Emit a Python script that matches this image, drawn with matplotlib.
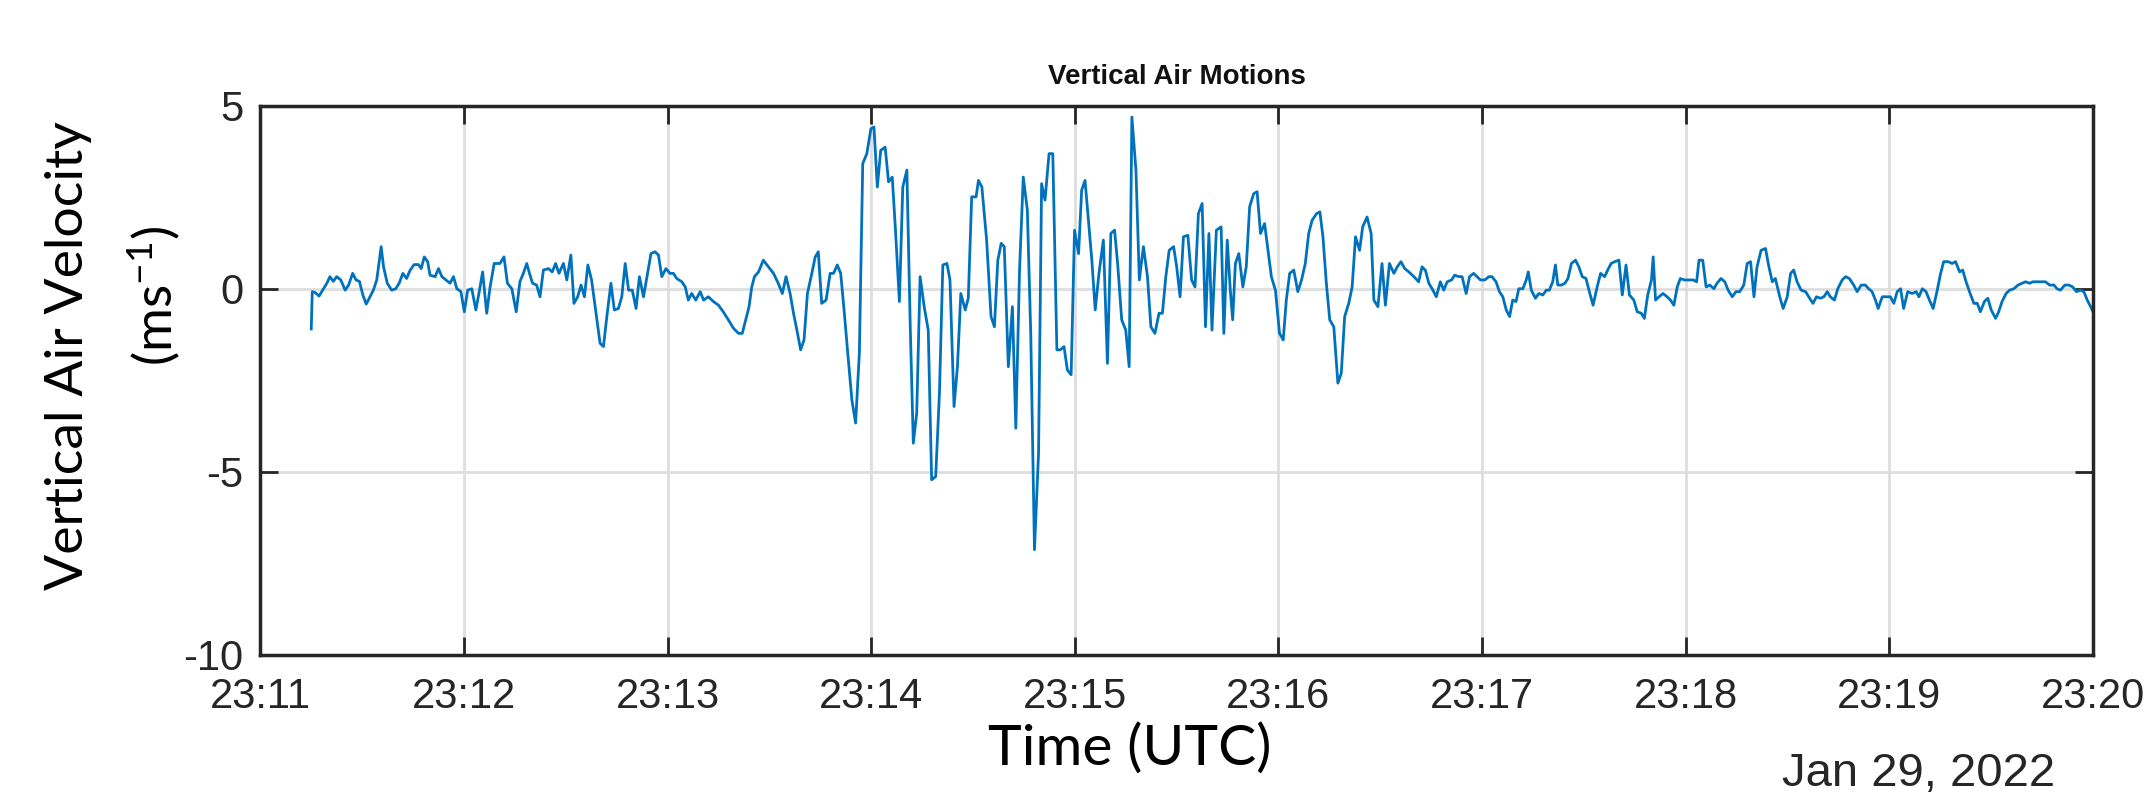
import numpy as np
import matplotlib
matplotlib.use("Agg")
import matplotlib.pyplot as plt
import matplotlib.dates as mdates

# seconds after 23:11:00 UTC
t_sec = [
    15.0, 15.3, 16.1, 17.3, 18.6, 19.6, 20.5, 21.5, 22.5, 23.7, 25.0, 26.0, 27.2, 28.2, 29.2, 30.2,
    31.2, 32.3, 33.3, 34.3, 35.6, 36.3, 37.4, 38.7, 39.9, 40.9, 42.0, 43.1, 44.1, 45.3, 46.6, 47.4,
    48.3, 49.3, 50.0, 51.5, 52.5, 53.5, 54.7, 55.9, 56.9, 57.9, 59.1, 60.1, 61.1, 62.3, 63.5, 64.5,
    65.5, 66.7, 67.7, 68.9, 70.6, 71.8, 72.8, 74.1, 75.4, 76.5, 77.5, 78.5, 79.3, 80.2, 81.4, 82.4,
    83.4, 84.9, 86.0, 87.0, 88.0, 89.3, 90.3, 91.5, 92.4, 93.5, 94.5, 95.5, 96.5, 97.6, 98.8, 100.1,
    101.1, 102.1, 103.3, 104.3, 105.5, 106.5, 107.5, 108.5, 109.6, 110.7, 111.7, 112.9, 114.1, 115.1,
    116.3, 117.3, 118.3, 119.5, 120.7, 121.7, 122.7, 124.2, 125.2, 126.1, 127.1, 128.3, 129.6, 130.6,
    132.0, 133.5, 135.0, 136.4, 137.9, 139.4, 140.9, 142.0, 143.0, 144.0, 144.8, 145.6, 146.8, 148.2,
    149.7, 151.2, 152.6, 153.8, 154.9, 156.1, 157.1, 158.1, 159.2, 160.2, 161.2, 162.5, 163.5, 164.4,
    165.4, 166.7, 167.9, 168.9, 170.0, 171.0, 172.0, 173.0, 174.3, 175.4, 176.5, 177.5, 178.7, 179.9,
    180.8, 181.8, 182.8, 184.1, 185.1, 186.2, 187.2, 188.3, 189.3, 190.5, 191.5, 192.4, 193.4, 194.4,
    195.6, 196.8, 197.8, 199.0, 200.1, 201.1, 202.3, 203.2, 204.4, 205.4, 206.4, 207.7, 208.6, 209.6,
    210.9, 211.6, 212.6, 214.0, 215.3, 216.3, 217.3, 218.3, 219.2, 220.4, 221.6, 222.6, 223.7, 224.8,
    226.0, 227.0, 228.1, 229.3, 230.2, 231.2, 232.4, 233.5, 234.7, 235.7, 236.8, 237.8, 238.9, 239.9,
    241.1, 242.0, 243.0, 244.0, 245.0, 246.0, 247.1, 248.4, 249.6, 250.6, 251.7, 252.6, 253.8, 255.0,
    256.0, 256.8, 258.0, 259.0, 260.2, 261.4, 262.4, 263.6, 264.8, 265.8, 266.8, 267.8, 269.1, 270.0,
    271.0, 272.0, 273.3, 274.4, 275.4, 276.4, 277.5, 278.5, 279.5, 280.4, 281.7, 283.1, 283.9, 284.9,
    285.8, 286.5, 287.3, 288.3, 289.5, 290.5, 291.5, 292.7, 293.7, 294.7, 295.9, 296.9, 297.9, 299.1,
    300.3, 301.4, 302.3, 303.3, 304.5, 305.7, 306.8, 307.9, 308.9, 309.9, 311.2, 312.2, 313.1, 314.1,
    315.1, 316.3, 317.5, 318.5, 319.5, 320.7, 321.7, 322.7, 323.9, 324.8, 326.1, 327.3, 328.1, 329.3,
    330.5, 331.5, 332.7, 334.0, 335.0, 336.1, 337.2, 338.4, 339.9, 341.3, 342.3, 343.3, 344.3, 345.5,
    346.5, 347.7, 348.7, 349.7, 351.0, 351.9, 353.1, 354.1, 355.3, 356.3, 357.5, 358.5, 359.5, 360.8,
    362.0, 362.9, 364.1, 365.1, 366.1, 367.1, 368.1, 369.0, 370.0, 370.8, 372.0, 373.0, 373.6, 374.5,
    375.7, 376.7, 377.9, 378.9, 379.8, 380.8, 381.6, 382.3, 383.4, 384.4, 385.3, 386.3, 387.5, 388.5,
    389.5, 390.6, 391.6, 392.7, 393.9, 394.9, 396.1, 397.0, 398.0, 399.1, 400.3, 401.3, 402.4, 403.4,
    404.7, 405.7, 406.9, 407.8, 408.8, 409.9, 410.4, 411.1, 412.1, 413.3, 414.5, 415.5, 416.5, 417.5,
    418.4, 419.6, 420.9, 422.2, 423.2, 423.9, 425.0, 426.0, 427.1, 428.3, 429.2, 430.4, 431.5, 432.5,
    433.7, 434.8, 435.9, 437.1, 438.1, 439.1, 440.1, 441.0, 442.2, 443.5, 444.5, 445.5, 446.4, 447.7,
    448.7, 449.9, 450.9, 451.8, 452.8, 454.0, 455.3, 456.5, 457.5, 458.5, 459.7, 460.7, 461.7, 462.6,
    463.8, 464.8, 466.1, 467.1, 468.2, 469.5, 470.5, 471.7, 472.9, 473.9, 474.9, 475.9, 476.7, 477.9,
    479.0, 480.3, 481.3, 482.3, 483.3, 484.2, 485.4, 486.7, 487.9, 488.7, 489.7, 490.8, 491.8, 492.9,
    494.1, 495.1, 496.0, 497.3, 498.5, 499.5, 500.7, 501.6, 502.6, 503.6, 504.9, 505.9, 506.8, 508.0,
    509.0, 510.0, 511.3, 512.2, 513.2, 514.4, 515.4, 516.7, 517.9, 519.1, 520.1, 521.3, 522.3, 523.5,
    524.8, 526.0, 527.2, 528.5, 529.4, 530.4, 531.7, 532.9, 534.0, 535.1, 536.3, 537.3, 538.3, 539.3,
    540.0,
]

# vertical air velocity (m/s)
w_vel = [
    -1.1, -0.08, -0.1, -0.2, 0.0, 0.15, 0.33, 0.2, 0.33, 0.24, -0.04, 0.1, 0.42, 0.24, 0.2, -0.17,
    -0.42, -0.22, -0.04, 0.24, 1.15, 0.6, 0.15, -0.04, 0.0, 0.15, 0.42, 0.28, 0.5, 0.66, 0.66, 0.55,
    0.87, 0.74, 0.37, 0.33, 0.55, 0.33, 0.24, 0.15, 0.33, 0.0, -0.08, -0.63, -0.04, 0.0, -0.58, -0.08,
    0.46, -0.67, 0.05, 0.69, 0.69, 0.87, 0.15, 0.0, -0.63, 0.2, 0.42, 0.69, 0.42, 0.15, 0.1, -0.22,
    0.51, 0.55, 0.46, 0.69, 0.42, 0.69, 0.24, 0.92, -0.4, -0.22, 0.1, -0.22, 0.65, 0.24, -0.58, -1.49,
    -1.58, -0.76, 0.15, -0.58, -0.54, -0.22, 0.69, -0.04, -0.04, -0.54, 0.33, -0.22, 0.42, 0.96,
    1.01, 0.92, 0.33, 0.55, 0.42, 0.42, 0.28, 0.19, 0.05, -0.31, -0.13, -0.31, -0.08, -0.31,
    -0.22, -0.35, -0.45, -0.63, -0.85, -1.08, -1.22, -1.22, -0.85, -0.49, 0.05, 0.33, 0.46, 0.78,
    0.6, 0.42, 0.15, -0.13, 0.33, -0.13, -0.67, -1.13, -1.67, -1.4, -0.13, 0.42, 0.87, 1.01,
    -0.4, -0.31, 0.42, 0.42, 0.65, 0.42, -0.58, -1.67, -3.04, -3.67, -1.76, 3.42, 3.69, 4.37,
    4.42, 2.78, 3.78, 3.87, 2.92, 3.05, 1.51, -0.35, 2.78, 3.24, -1.04, -4.22, -3.4, 0.33,
    -0.49, -1.13, -5.22, -5.13, -2.85, 0.65, 0.69, 0.24, -3.22, -2.13, -0.13, -0.58, -0.26, 2.51,
    2.51, 2.96, 2.78, 1.33, -0.76, -1.04, 0.78, 1.24, 1.15, -2.13, -0.49, -3.81, 0.51, 3.05,
    2.15, -1.22, -7.13, -4.49, 2.87, 2.42, 3.69, 3.69, -1.67, -1.67, -1.58, -2.22, -2.35, 1.6,
    0.96, 2.69, 2.96, 1.87, 0.78, -0.58, 0.42, 1.33, -2.04, 1.51, 1.6, 0.69, -0.85, -1.13,
    -2.13, 4.69, 3.24, 0.24, 1.15, 0.33, -1.04, -1.22, -0.67, -0.67, 0.33, 1.05, 1.15, 0.6,
    -0.22, 1.42, 1.46, 0.24, 0.05, 2.05, 2.33, -1.04, 1.51, -1.13, 1.6, 1.69, -1.22, 1.33,
    -0.04, -0.85, 0.69, 0.96, 0.05, 0.6, 2.24, 2.6, 2.65, 1.51, 1.78, 1.05, 0.33, -0.04,
    -1.22, -1.4, -0.31, 0.42, 0.51, -0.08, 0.24, 0.69, 1.51, 1.87, 2.05, 2.1, 1.42, 0.15,
    -0.85, -1.04, -2.58, -2.31, -0.76, -0.4, 0.05, 1.42, 1.05, 1.69, 1.96, 1.51, -0.31, -0.49,
    0.69, -0.45, 0.69, 0.42, 0.6, 0.74, 0.55, 0.46, 0.33, 0.19, 0.6, 0.5, 0.15, -0.04,
    -0.22, 0.19, -0.04, 0.19, 0.24, 0.37, 0.33, 0.33, -0.13, 0.33, 0.42, 0.33, 0.24, 0.24,
    0.33, 0.33, 0.19, -0.08, -0.22, -0.58, -0.76, -0.31, -0.35, 0.0, 0.0, 0.24, 0.46, -0.04,
    -0.26, -0.13, -0.17, -0.04, -0.04, 0.19, 0.65, 0.1, 0.1, 0.15, 0.28, 0.69, 0.78, 0.6,
    0.33, 0.28, -0.08, -0.45, 0.05, 0.42, 0.33, 0.51, 0.69, 0.74, 0.78, -0.17, 0.65, -0.17,
    -0.31, -0.63, -0.67, -0.81, -0.17, 0.24, 0.87, -0.31, -0.22, -0.13, -0.22, -0.31, -0.45, 0.05,
    0.28, 0.24, 0.24, 0.24, 0.19, 0.78, 0.78, 0.05, 0.1, 0.0, 0.15, 0.28, 0.19, -0.04,
    -0.22, -0.08, -0.08, 0.1, 0.69, 0.74, -0.22, 0.6, 1.05, 1.1, 0.6, 0.19, 0.28, -0.22,
    -0.54, -0.22, 0.42, 0.51, 0.19, -0.04, -0.08, -0.26, -0.4, -0.22, -0.26, -0.22, -0.08, -0.22,
    -0.31, 0.0, 0.24, 0.33, 0.28, 0.1, -0.08, 0.1, 0.1, 0.0, -0.08, -0.31, -0.54, -0.22,
    -0.22, -0.22, -0.4, -0.08, 0.0, -0.54, -0.08, -0.13, -0.08, -0.22, 0.0, -0.08, -0.31, -0.54,
    -0.04, 0.42, 0.74, 0.74, 0.69, 0.74, 0.46, 0.51, 0.19, -0.08, -0.4, -0.4, -0.63, -0.35,
    -0.26, -0.58, -0.81, -0.63, -0.35, -0.13, -0.04, 0.0, 0.1, 0.15, 0.19, 0.15, 0.19, 0.19,
    0.19, 0.19, 0.1, 0.1, 0.0, -0.04, 0.1, 0.1, 0.05, -0.08, -0.04, -0.08, -0.31, -0.49,
    -0.63,
]

start = np.datetime64("2022-01-29T23:11:00")
end = np.datetime64("2022-01-29T23:20:00")
times = start + (np.array(t_sec) * 1000).astype("timedelta64[ms]")

DARK = "#262626"
plt.rcParams["mathtext.default"] = "regular"
plt.rcParams["axes.unicode_minus"] = False

fig = plt.figure(figsize=(21.48, 8.09), dpi=100)
ax = fig.add_axes([0.1212, 0.1907, 0.8532, 0.6786])

ax.plot(times, w_vel, color="#0072BD", linewidth=2.0)

ax.set_xlim(start, end)
ax.set_ylim(-10, 5)
ax.set_yticks([-10, -5, 0, 5])
ax.xaxis.set_major_locator(mdates.MinuteLocator())
ax.xaxis.set_major_formatter(mdates.DateFormatter("%H:%M"))

ax.grid(True, color="#dedede", linewidth=2.0)
ax.set_axisbelow(True)
ax.tick_params(direction="in", length=13, width=2, color=DARK,
               top=True, right=True, labelsize=30, labelcolor=DARK)
ax.tick_params(axis="x", pad=16)
ax.tick_params(axis="y", pad=12)
for lbl in ax.get_xticklabels() + ax.get_yticklabels():
    lbl.set_family("Liberation Sans")
for sp in ax.spines.values():
    sp.set_linewidth(2.5)
    sp.set_color(DARK)

ax.set_title("Vertical Air Motions", fontsize=20, fontweight="bold",
             family="Liberation Sans", color="#111111", pad=16)

fig.text(0.0317, 0.561, "Vertical Air Velocity", rotation=90, fontsize=38.5,
         family="Lato", ha="center", va="center")
fig.text(0.0714, 0.634, "(ms$^{-1}$)", rotation=90, fontsize=38.5,
         family="Lato", ha="center", va="center")
fig.text(0.526, 0.074, "Time (UTC)", fontsize=41, family="Lato",
         ha="center", va="center")
fig.text(0.9567, 0.043, "Jan 29, 2022", fontsize=34, family="Liberation Sans",
         color=DARK, ha="right", va="center")

fig.savefig("out.png", dpi=100)
